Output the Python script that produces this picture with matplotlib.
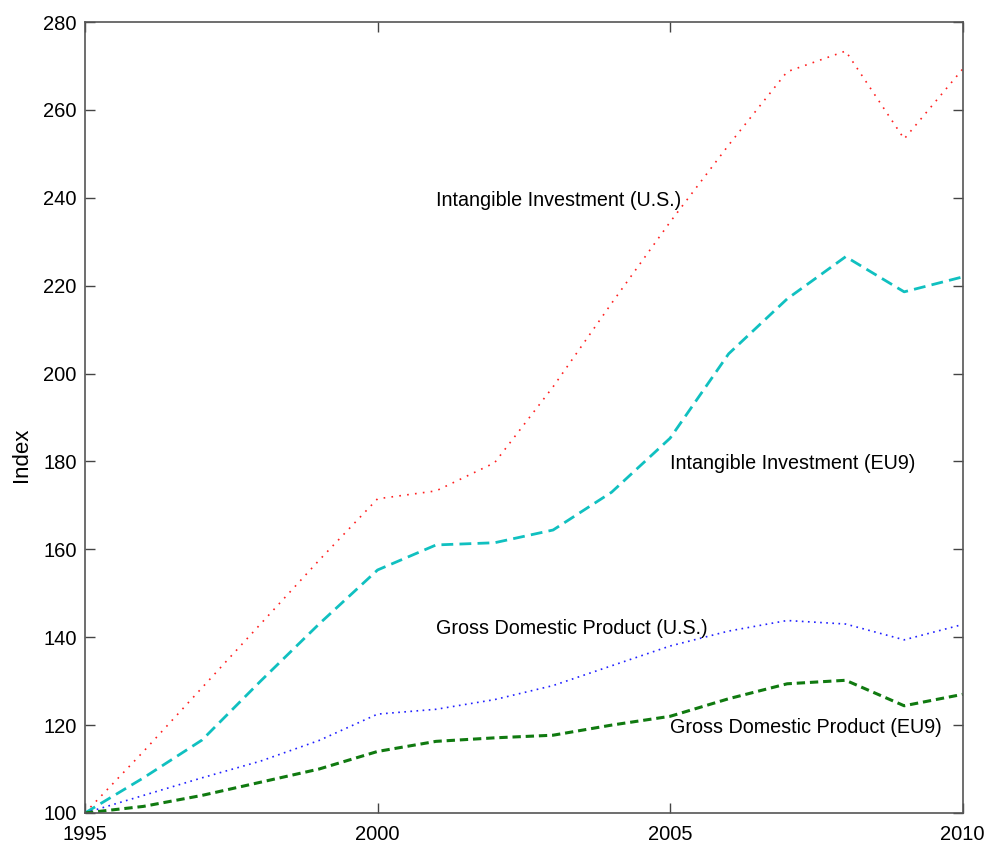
import matplotlib
matplotlib.use("Agg")
from matplotlib import pyplot as plt

years = list(range(1995, 2011))

# index, 1995 = 100
intangible_us = [100, 114, 128.5, 143, 157.5, 171.5, 173.3, 179.7, 197, 216, 234.5, 252, 268.7, 273.4, 253.4, 269.3]
intangible_eu9 = [100, 108, 116.6, 130, 143, 155.3, 161, 161.5, 164.4, 173, 185.3, 204.5, 217, 226.6, 218.6, 222]
gdp_us = [100, 104, 108, 111.8, 116.5, 122.5, 123.6, 125.8, 129, 133.5, 138, 141.4, 143.8, 143, 139.4, 142.9]
gdp_eu9 = [100, 101.5, 104, 107, 110, 114, 116.3, 117.1, 117.7, 120, 122, 126, 129.4, 130.2, 124.4, 127]

labels = ["Intangible Investment (U.S.)", "Intangible Investment (EU9)",
          "Gross Domestic Product (U.S.)", "Gross Domestic Product (EU9)"]
label_pos = [(2001, 239.5), (2005, 179.5), (2001, 142), (2005, 119.5)]

plt.rcParams['font.family'] = ['Liberation Sans', 'DejaVu Sans']
plt.rcParams['lines.scale_dashes'] = False

fig = plt.figure(figsize=(9.94, 8.48), dpi=100, facecolor='white')
ax = fig.add_axes([0.0855, 0.0413, 0.883, 0.9327])

ax.plot(years, intangible_us, color='#ff2020', lw=1.2, linestyle=(0, (1.2, 4.5)))
ax.plot(years, intangible_eu9, color='#10c0c0', lw=2.0, linestyle=(0, (8.5, 4.5)))
ax.plot(years, gdp_us, color='#2020ff', lw=1.2, linestyle=(0, (1.2, 3.2)))
ax.plot(years, gdp_eu9, color='#107a10', lw=2.2, linestyle=(0, (6, 3.5)))

for txt, (tx, ty) in zip(labels, label_pos):
    ax.text(tx, ty, txt, fontsize=14.2, ha='left', va='center')

ax.set_xlim(1995, 2010)
ax.set_ylim(100, 280)
ax.set_xticks([1995, 2000, 2005, 2010])
ax.set_yticks(range(100, 281, 20))
ax.set_ylabel('Index', fontsize=16)
ax.yaxis.set_label_coords(-0.06, 0.453)
ax.tick_params(direction='in', length=7.5, width=1, labelsize=14.5,
               top=True, right=True, color='#444444')
ax.tick_params(axis='x', pad=9)
ax.tick_params(axis='y', pad=6)
for s in ax.spines.values():
    s.set_color('#555555')
    s.set_linewidth(1.2)

fig.savefig('out.png', dpi=100, facecolor='white')
